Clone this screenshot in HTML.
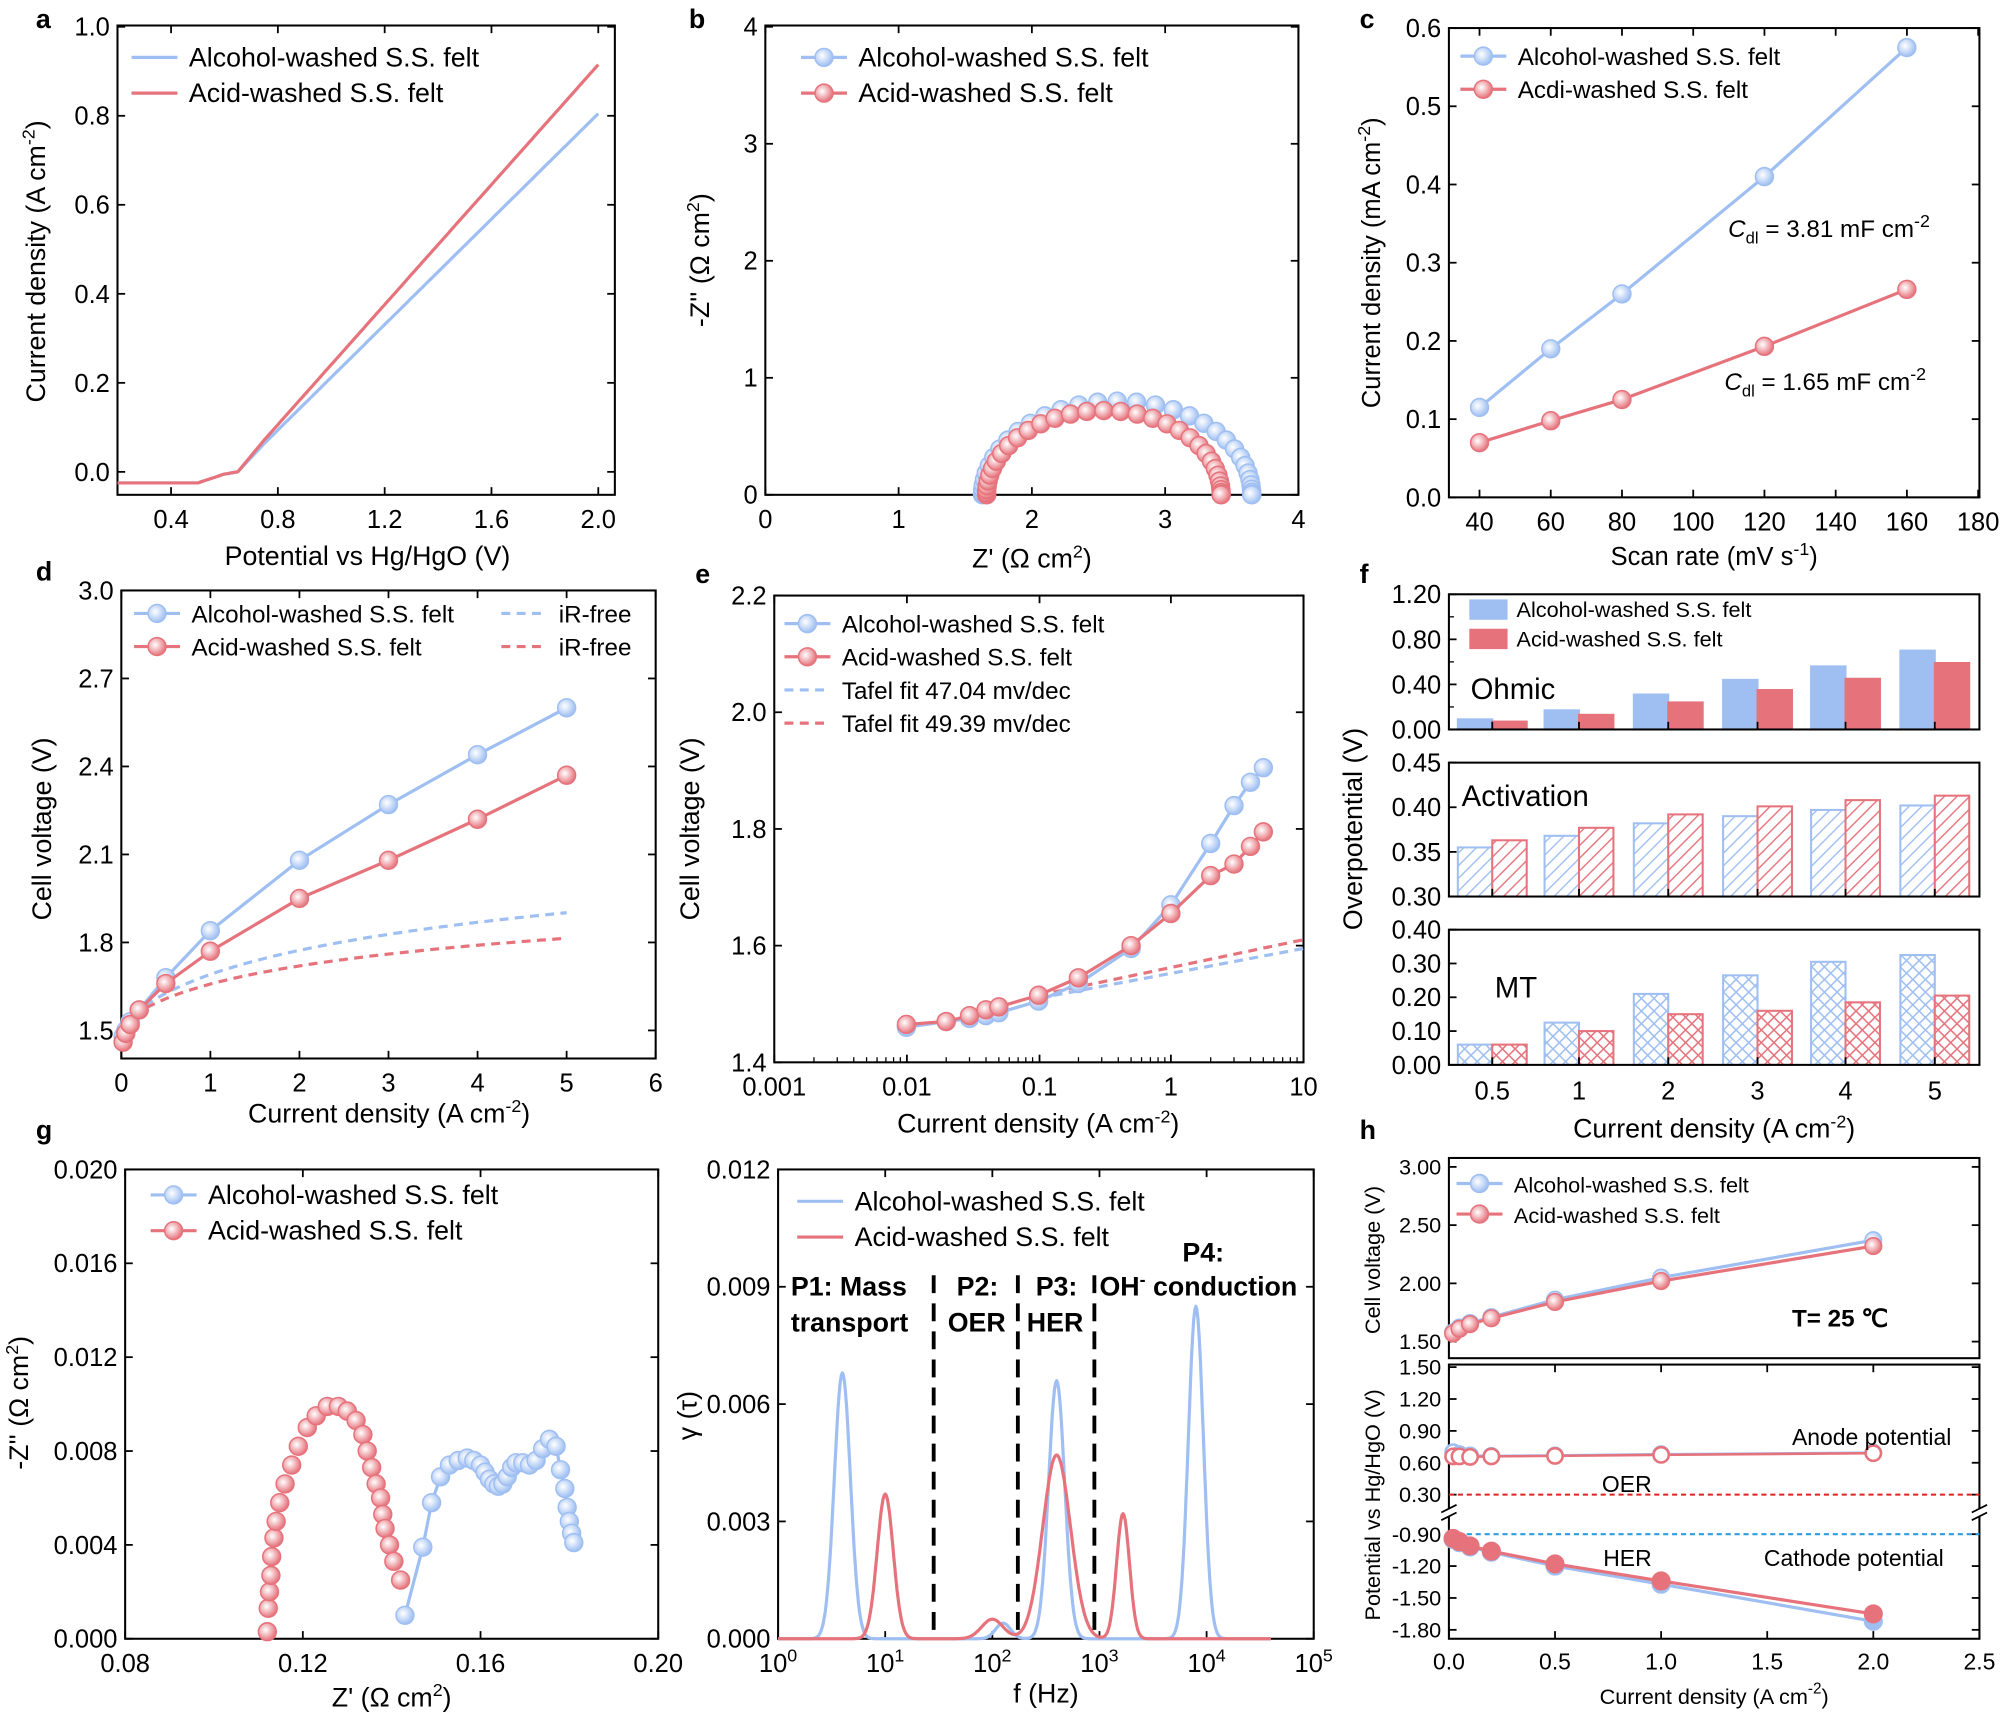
<!DOCTYPE html>
<html><head><meta charset="utf-8"><style>html,body{margin:0;padding:0;background:#fff}svg{display:block}</style></head>
<body><svg id="s" width="2000" height="1714" viewBox="0 0 1568 1344" xmlns="http://www.w3.org/2000/svg" font-family="Liberation Sans, Arial, sans-serif"></svg>
<script>
const B='#9fbff2',R='#e6737c';
let o='';
o+=`<defs>
<radialGradient id="gb" cx="0.4" cy="0.4" r="0.6"><stop offset="0" stop-color="#fff"/><stop offset="1" stop-color="${B}"/></radialGradient>
<radialGradient id="gr" cx="0.4" cy="0.4" r="0.6"><stop offset="0" stop-color="#fff"/><stop offset="1" stop-color="${R}"/></radialGradient>
<pattern id="hb" width="7" height="7" patternUnits="userSpaceOnUse" patternTransform="rotate(45)"><rect width="7" height="7" fill="#fff"/><line x1="0" y1="0" x2="0" y2="7" stroke="${B}" stroke-width="2.2"/></pattern>
<pattern id="hr" width="7" height="7" patternUnits="userSpaceOnUse" patternTransform="rotate(45)"><rect width="7" height="7" fill="#fff"/><line x1="0" y1="0" x2="0" y2="7" stroke="${R}" stroke-width="2.2"/></pattern>
<pattern id="xb" width="7" height="7" patternUnits="userSpaceOnUse" patternTransform="rotate(45)"><rect width="7" height="7" fill="#fff"/><line x1="0" y1="0" x2="0" y2="7" stroke="${B}" stroke-width="2.4"/><line x1="0" y1="0" x2="7" y2="0" stroke="${B}" stroke-width="2.4"/></pattern>
<pattern id="xr" width="7" height="7" patternUnits="userSpaceOnUse" patternTransform="rotate(45)"><rect width="7" height="7" fill="#fff"/><line x1="0" y1="0" x2="0" y2="7" stroke="${R}" stroke-width="2.4"/><line x1="0" y1="0" x2="7" y2="0" stroke="${R}" stroke-width="2.4"/></pattern>
</defs>`;
function T(x,y,s,sz=20,anc='start',ex=''){o+=`<text x="${x}" y="${y}" font-size="${sz}" text-anchor="${anc}" ${ex}>${s}</text>`;}
function TR(x,y,s,sz=21){o+=`<text x="${x}" y="${y}" font-size="${sz}" text-anchor="middle" transform="rotate(-90 ${x} ${y})">${s}</text>`;}
const sup=(t,sz=14)=>`<tspan dy="-8" font-size="${sz}">${t}</tspan><tspan dy="8">&#8203;</tspan>`;
function box(x0,y0,x1,y1){o+=`<rect x="${x0}" y="${y0}" width="${x1-x0}" height="${y1-y0}" fill="none" stroke="#000" stroke-width="1.6"/>`;}
function xt(list,yb,yt,sz=20,lab=true){list.forEach(([p,l])=>{o+=`<line x1="${p}" y1="${yb}" x2="${p}" y2="${yb-6}" stroke="#000" stroke-width="1.4"/>`;if(yt!==null)o+=`<line x1="${p}" y1="${yt}" x2="${p}" y2="${yt+6}" stroke="#000" stroke-width="1.4"/>`;if(lab&&l!=='')T(p,yb+sz+6,l,sz,'middle');});}
function yt(list,xl,xr,sz=20){list.forEach(([p,l])=>{o+=`<line x1="${xl}" y1="${p}" x2="${xl+6}" y2="${p}" stroke="#000" stroke-width="1.4"/>`;if(xr!==null)o+=`<line x1="${xr}" y1="${p}" x2="${xr-6}" y2="${p}" stroke="#000" stroke-width="1.4"/>`;if(l!=='')T(xl-6,p+sz*0.35,l,sz,'end');});}
function line(pts,c,w=2.5,dash=''){o+=`<polyline points="${pts.map(p=>p[0].toFixed(1)+','+p[1].toFixed(1)).join(' ')}" fill="none" stroke="${c}" stroke-width="${w}" ${dash?`stroke-dasharray="${dash}"`:''} stroke-linejoin="round"/>`;}
function mk(pts,g,c,r=7){pts.forEach(p=>{o+=`<circle cx="${p[0].toFixed(1)}" cy="${p[1].toFixed(1)}" r="${r}" fill="url(#${g})" stroke="${c}" stroke-width="1.2"/>`;});}
function mko(pts,c,r=6){pts.forEach(p=>{o+=`<circle cx="${p[0].toFixed(1)}" cy="${p[1].toFixed(1)}" r="${r}" fill="#fff" stroke="${c}" stroke-width="2"/>`;});}
function mkf(pts,c,r=7){pts.forEach(p=>{o+=`<circle cx="${p[0].toFixed(1)}" cy="${p[1].toFixed(1)}" r="${r}" fill="${c}" stroke="${c}"/>`;});}
const L=(d0,d1,p0,p1)=>v=>p0+(v-d0)*(p1-p0)/(d1-d0);
const LG=(p0,pd)=>v=>p0+Math.log10(v)*pd;
function legM(x,y,c,g,txt,sz){line([[x,y],[x+36,y]],c,2.5);mk([[x+18,y]],g,c);T(x+45,y+7,txt,sz);}
function legL(x,y,c,txt,sz,dash=''){line([[x,y],[x+36,y]],c,2.5,dash);T(x+45,y+7,txt,sz);}
[['a',28,22],['b',540,22],['c',1066,22],['d',28,455],['e',545,457],['f',1066,457],['g',28,893],['h',1066,893]].forEach(a=>T(a[1],a[2],a[0],21,'start','font-weight="bold"'));
// ---- a
{const X=L(0.4,2.0,134,469),Y=L(0,1,370,21);box(92,20,482,388);
xt([0.4,0.8,1.2,1.6,2.0].map(v=>[X(v),v.toFixed(1)]),388,20);
yt([0,0.2,0.4,0.6,0.8,1.0].map(v=>[Y(v),v.toFixed(1)]),92,482);
const cur=(end)=>{let p=[];for(let x=0.2;x<=2.0001;x+=0.01){let y;if(x<0.5)y=-0.025;else if(x<0.6)y=-0.025+(x-0.5)*0.2;else if(x<0.65)y=-0.005+(x-0.6)*0.1;else y=(x-0.65)/(1.35)*end+ (x<0.75?(x-0.65)*0.05:0.005);p.push([X(x),Y(y)]);}return p;};
line(cur(0.8),B);line(cur(0.91),R);
legL(103,45,B,'Alcohol-washed S.S. felt',21);legL(103,73,R,'Acid-washed S.S. felt',21);
TR(35,205,'Current density (A cm'+sup('-2')+')');T(288,443,'Potential vs Hg/HgO (V)',21,'middle');}
// ---- b
{const X=L(0,4,600,1018),Y=L(0,4,388,21);box(600,20,1018,388);
xt([0,1,2,3,4].map(v=>[X(v),v]),388,20);yt([0,1,2,3,4].map(v=>[Y(v),v]),600,1018);
const semi=(a,b,h,N)=>{let p=[];for(let k=0;k<=N;k++){let u=(1-Math.cos(Math.PI*k/N))/2;let th=Math.PI*(1-u);let c=(a+b)/2,r=(b-a)/2;p.push([X(c+r*Math.cos(th)),Y(h*Math.sin(th))]);}return p;};
mk(semi(1.63,3.65,0.8,34),'gb',B);mk(semi(1.66,3.42,0.72,34),'gr',R);
legM(628,45,B,'gb','Alcohol-washed S.S. felt',21);legM(628,73,R,'gr','Acid-washed S.S. felt',21);
TR(556,204,'-Z\'\' (Ω cm'+sup('2')+')');T(809,445,'Z\' (Ω cm'+sup('2')+')',21,'middle');}
// ---- c
{const X=L(40,180,1160,1551),Y=L(0,0.6,390,22);box(1136,22,1552,390);
xt([40,60,80,100,120,140,160,180].map(v=>[X(v),v]),390,22);
yt([0,0.1,0.2,0.3,0.4,0.5,0.6].map(v=>[Y(v),v.toFixed(1)]),1136,1552);
const b=[[40,0.115],[60,0.19],[80,0.26],[120,0.41],[160,0.575]].map(p=>[X(p[0]),Y(p[1])]);
const r=[[40,0.07],[60,0.098],[80,0.125],[120,0.193],[160,0.266]].map(p=>[X(p[0]),Y(p[1])]);
line(b,B);mk(b,'gb',B);line(r,R);mk(r,'gr',R);
legM(1145,44,B,'gb','Alcohol-washed S.S. felt',19);legM(1145,70,R,'gr','Acdi-washed S.S. felt',19);
T(1355,186,'<tspan font-style="italic">C</tspan><tspan font-size="13" dy="5">dl</tspan><tspan dy="-5"> = 3.81 mF cm</tspan>'+sup('-2'),19);
T(1352,306,'<tspan font-style="italic">C</tspan><tspan font-size="13" dy="5">dl</tspan><tspan dy="-5"> = 1.65 mF cm</tspan>'+sup('-2'),19);
TR(1082,206,'Current density (mA cm'+sup('-2')+')',20);T(1344,443,'Scan rate (mV s'+sup('-1')+')',20,'middle');}
// ---- d
{const X=L(0,6,95,514),Y=L(1.5,3.0,808,463);box(95,463,514,830);
xt([0,1,2,3,4,5,6].map(v=>[X(v),v]),830,463);yt([1.5,1.8,2.1,2.4,2.7,3.0].map(v=>[Y(v),v.toFixed(1)]),95,514);
const b=[[0.02,1.48],[0.05,1.5],[0.1,1.53],[0.2,1.57],[0.5,1.68],[1,1.84],[2,2.08],[3,2.27],[4,2.44],[5,2.6]].map(p=>[X(p[0]),Y(p[1])]);
const r=[[0.02,1.46],[0.05,1.49],[0.1,1.52],[0.2,1.57],[0.5,1.66],[1,1.77],[2,1.95],[3,2.08],[4,2.22],[5,2.37]].map(p=>[X(p[0]),Y(p[1])]);
let db=[],dr=[];for(let x=0;x<=5.001;x+=0.05){db.push([X(x),Y(1.52+0.165*Math.log(1+x/0.55))]);dr.push([X(x),Y(1.52+0.118*Math.log(1+x/0.45))]);}
line(db,B,2.5,'7,5');line(dr,R,2.5,'7,5');
line(b,B);mk(b,'gb',B);line(r,R);mk(r,'gr',R);
legM(105,481,B,'gb','Alcohol-washed S.S. felt',19);legM(105,507,R,'gr','Acid-washed S.S. felt',19);
legL(393,481,B,'iR-free',19,'7,5');legL(393,507,R,'iR-free',19,'7,5');
TR(40,650,'Cell voltage (V)');T(305,880,'Current density (A cm'+sup('-2')+')',21,'middle');}
// ---- e
{const X=LG(918,103.7),Y=L(1.4,2.2,833,467);box(607,467,1022,833);
xt([[607,'0.001'],[711,'0.01'],[815,'0.1'],[918,'1'],[1022,'10']],833,467);
let mt=[];for(let d=-3;d<1;d++)for(let k=2;k<10;k++)mt.push(X(k*Math.pow(10,d)));mt.forEach(p=>{o+=`<line x1="${p}" y1="833" x2="${p}" y2="829" stroke="#000"/>`;});
yt([1.4,1.6,1.8,2.0,2.2].map(v=>[Y(v),v.toFixed(1)]),607,1022);
const b=[[0.01,1.46],[0.02,1.47],[0.03,1.475],[0.04,1.48],[0.05,1.485],[0.1,1.505],[0.2,1.535],[0.5,1.595],[1,1.67],[2,1.775],[3,1.84],[4,1.88],[5,1.905]].map(p=>[X(p[0]),Y(p[1])]);
const r=[[0.01,1.465],[0.02,1.47],[0.03,1.48],[0.04,1.49],[0.05,1.495],[0.1,1.515],[0.2,1.545],[0.5,1.6],[1,1.655],[2,1.72],[3,1.74],[4,1.77],[5,1.795]].map(p=>[X(p[0]),Y(p[1])]);
line([[X(0.1),Y(1.51)],[X(10),Y(1.595)]],B,2.5,'7,5');line([[X(0.1),Y(1.515)],[X(10),Y(1.61)]],R,2.5,'7,5');
line(b,B);mk(b,'gb',B);line(r,R);mk(r,'gr',R);
legM(615,489,B,'gb','Alcohol-washed S.S. felt',19);legM(615,515,R,'gr','Acid-washed S.S. felt',19);
legL(615,541,B,'Tafel fit 47.04 mv/dec',19,'7,5');legL(615,567,R,'Tafel fit 49.39 mv/dec',19,'7,5');
TR(548,650,'Cell voltage (V)');T(814,888,'Current density (A cm'+sup('-2')+')',21,'middle');}
// ---- f
{const cs=[1170,1238,1308,1378,1447,1517],labs=['0.5','1','2','3','4','5'];
const panel=(y0,y1,lo,hi,ticks,fmt,bv,rv,fb,fr)=>{const Y=L(lo,hi,y1,y0);
 cs.forEach((c,i)=>{o+=`<rect x="${c-27}" y="${Y(bv[i])}" width="27" height="${y1-Y(bv[i])}" fill="${fb}" stroke="${B}" stroke-width="1.6"/>`;o+=`<rect x="${c}" y="${Y(rv[i])}" width="27" height="${y1-Y(rv[i])}" fill="${fr}" stroke="${R}" stroke-width="1.6"/>`;});
 box(1136,y0,1552,y1);yt(ticks.map(v=>[Y(v),v.toFixed(2)]),1136,null);xt(cs.map(c=>[c,'']),y1,null,20,false);};
panel(466,572,0,1.2,[0,0.4,0.8,1.2],2,[0.09,0.17,0.31,0.44,0.56,0.70],[0.07,0.13,0.24,0.35,0.45,0.59],B,R);
[0.2,0.6,1.0].forEach(v=>{const y=L(0,1.2,572,466)(v);o+=`<line x1="1136" y1="${y}" x2="1140" y2="${y}" stroke="#000"/>`;});
panel(598,703,0.30,0.45,[0.30,0.35,0.40,0.45],2,[0.355,0.368,0.382,0.39,0.397,0.402],[0.363,0.377,0.392,0.401,0.408,0.413],'url(#hb)','url(#hr)');
panel(729,835,0,0.4,[0,0.1,0.2,0.3,0.4],2,[0.06,0.125,0.21,0.265,0.305,0.325],[0.06,0.10,0.15,0.16,0.185,0.205],'url(#xb)','url(#xr)');
cs.forEach((c,i)=>T(c,862,labs[i],20,'middle'));
o+=`<rect x="1152" y="470" width="30" height="16" fill="${B}"/><rect x="1152" y="493" width="30" height="16" fill="${R}"/>`;
T(1189,484,'Alcohol-washed S.S. felt',17);T(1189,507,'Acid-washed S.S. felt',17);
T(1153,548,'Ohmic',23);T(1146,632,'Activation',23);T(1172,782,'MT',23);
TR(1068,650,'Overpotential (V)');T(1344,892,'Current density (A cm'+sup('-2')+')',21,'middle');}
// ---- g left
{const X=L(0.08,0.20,98,516),Y=L(0,0.02,1285,917);box(98,917,516,1285);
xt([0.08,0.12,0.16,0.20].map(v=>[X(v),v.toFixed(2)]),1285,917);
yt([0,0.004,0.008,0.012,0.016,0.020].map(v=>[Y(v),v.toFixed(3)]),98,516);
const r=[[0.112,0.0003],[0.1122,0.0013],[0.1125,0.002],[0.1128,0.0027],[0.113,0.0035],[0.1135,0.0043],[0.114,0.005],[0.1148,0.0058],[0.116,0.0066],[0.1175,0.0074],[0.119,0.0082],[0.121,0.009],[0.123,0.0095],[0.1255,0.0099],[0.128,0.0099],[0.130,0.0097],[0.132,0.0093],[0.1335,0.0087],[0.1345,0.008],[0.1355,0.0073],[0.1365,0.0066],[0.1375,0.006],[0.138,0.0053],[0.1385,0.0047],[0.1395,0.004],[0.1405,0.0033],[0.142,0.0025]].map(p=>[X(p[0]),Y(p[1])]);
const b=[[0.143,0.001],[0.147,0.0039],[0.149,0.0058],[0.151,0.0069],[0.153,0.0074],[0.155,0.0076],[0.157,0.0077],[0.1585,0.0076],[0.160,0.0074],[0.161,0.0071],[0.162,0.0068],[0.163,0.0066],[0.164,0.0065],[0.165,0.0066],[0.166,0.0069],[0.167,0.0073],[0.168,0.0075],[0.1695,0.0075],[0.171,0.0074],[0.1725,0.0076],[0.174,0.0081],[0.1755,0.0085],[0.177,0.0082],[0.178,0.0072],[0.179,0.0064],[0.1795,0.0056],[0.180,0.005],[0.1805,0.0045],[0.181,0.0041]].map(p=>[X(p[0]),Y(p[1])]);
line(b,B);mk(b,'gb',B);mk(r,'gr',R);
legM(118,937,B,'gb','Alcohol-washed S.S. felt',21);legM(118,965,R,'gr','Acid-washed S.S. felt',21);
TR(22,1100,'-Z\'\' (Ω cm'+sup('2')+')');T(307,1338,'Z\' (Ω cm'+sup('2')+')',21,'middle');}
// ---- g right
{const X=v=>610+v*84,Y=L(0,0.012,1285,917);box(610,917,1030,1285);
[0,1,2,3,4,5].forEach(v=>{o+=`<line x1="${X(v)}" y1="1285" x2="${X(v)}" y2="1279" stroke="#000" stroke-width="1.4"/><line x1="${X(v)}" y1="917" x2="${X(v)}" y2="923" stroke="#000" stroke-width="1.4"/>`;T(X(v),1311,'10'+sup(String(v)),20,'middle');});
yt([0,0.003,0.006,0.009,0.012].map(v=>[Y(v),v.toFixed(3)]),610,1030);
const g=(x,m,h,s)=>h*Math.exp(-((x-m)**2)/(2*s*s));
let pb=[],pr=[];for(let x=0;x<=4.6;x+=0.01){pb.push([X(x),Y(g(x,0.6,0.0068,0.075)+g(x,2.1,0.0004,0.07)+g(x,2.6,0.0066,0.075)+g(x,3.9,0.0085,0.07))]);pr.push([X(x),Y(g(x,1.0,0.0037,0.075)+g(x,2.0,0.0005,0.1)+g(x,2.6,0.0047,0.13)+g(x,3.22,0.0032,0.06))]);}
line(pb,B);line(pr,R);
[732,798,858].forEach(x=>o+=`<line x1="${x}" y1="1000" x2="${x}" y2="1285" stroke="#000" stroke-width="3" stroke-dasharray="14,8"/>`);
legL(625,942,B,'Alcohol-washed S.S. felt',21);legL(625,970,R,'Acid-washed S.S. felt',21);
const bt='font-weight="bold"';
T(620,1016,'P1: Mass',21,'start',bt);T(620,1044,'transport',21,'start',bt);T(750,1016,'P2:',21,'start',bt);T(743,1044,'OER',21,'start',bt);
T(812,1016,'P3:',21,'start',bt);T(805,1044,'HER',21,'start',bt);T(927,989,'P4:',21,'start',bt);T(862,1016,'OH'+sup('-',14)+' conduction',21,'start',bt);
TR(546,1110,'γ (τ)');T(820,1335,'f (Hz)',21,'middle');}
// ---- h
{const X=L(0,2.5,1136,1552),Y1=L(1.5,3.0,1052,915),Y2=L(0.3,1.5,1172,1072),Y3=L(-0.9,-1.8,1203,1278);
box(1136,908,1552,1065);o+=`<rect x="1136" y="1070" width="416" height="215" fill="none" stroke="#000" stroke-width="1.6"/>`;
yt([1.5,2.0,2.5,3.0].map(v=>[Y1(v),v.toFixed(2)]),1136,1552,17);
yt([0.3,0.6,0.9,1.2,1.5].map(v=>[Y2(v),v.toFixed(2)]),1136,1552,17);
yt([-0.9,-1.2,-1.5,-1.8].map(v=>[Y3(v),v.toFixed(2)]),1136,1552,17);
xt([0,0.5,1.0,1.5,2.0,2.5].map(v=>[X(v),v.toFixed(1)]),1285,1070,18);
o+=`<rect x="1130" y="1183" width="12" height="6" fill="#fff"/><rect x="1546" y="1183" width="12" height="6" fill="#fff"/>`;
o+=`<path d="M1130,1186 l12,-6 M1130,1192 l12,-6 M1546,1186 l12,-6 M1546,1192 l12,-6" stroke="#000" stroke-width="1.4"/>`;
const xs=[0.02,0.05,0.1,0.2,0.5,1,2];
const b1=[1.58,1.62,1.66,1.71,1.86,2.05,2.37].map((v,i)=>[X(xs[i]),Y1(v)]),r1=[1.57,1.61,1.65,1.70,1.84,2.02,2.32].map((v,i)=>[X(xs[i]),Y1(v)]);
line(b1,B);mk(b1,'gb',B,6.5);line(r1,R);mk(r1,'gr',R,6.5);
const b2=[0.7,0.68,0.67,0.665,0.67,0.68,0.695].map((v,i)=>[X(xs[i]),Y2(v)]),r2=[0.66,0.66,0.655,0.66,0.665,0.675,0.69].map((v,i)=>[X(xs[i]),Y2(v)]);
line(b2,B,2);mko(b2,B);line(r2,R,2);mko(r2,R);
o+=`<line x1="1136" y1="${Y2(0.3)}" x2="1552" y2="${Y2(0.3)}" stroke="#e02020" stroke-width="1.6" stroke-dasharray="4,3"/>`;
o+=`<line x1="1136" y1="${Y3(-0.9)}" x2="1552" y2="${Y3(-0.9)}" stroke="#2a9ee0" stroke-width="1.6" stroke-dasharray="4,3"/>`;
const b3=[-0.95,-0.98,-1.02,-1.07,-1.2,-1.37,-1.72].map((v,i)=>[X(xs[i]),Y3(v)]),r3=[-0.94,-0.97,-1.01,-1.06,-1.18,-1.34,-1.65].map((v,i)=>[X(xs[i]),Y3(v)]);
line(b3,B,2.5);mkf(b3,B);line(r3,R,2.5);mkf(r3,R);
legM(1142,928,B,'gb','Alcohol-washed S.S. felt',17);legM(1142,952,R,'gr','Acid-washed S.S. felt',17);
T(1405,1040,'T= 25 ℃',19,'start','font-weight="bold"');T(1405,1133,'Anode potential',18);T(1256,1170,'OER',18);T(1257,1228,'HER',18);T(1383,1228,'Cathode potential',18);
TR(1082,988,'Cell voltage (V)',17);TR(1082,1180,'Potential vs Hg/HgO (V)',17);T(1344,1336,'Current density (A cm'+sup('-2',12)+')',17,'middle');}
document.getElementById('s').innerHTML+=o;
</script></body></html>
